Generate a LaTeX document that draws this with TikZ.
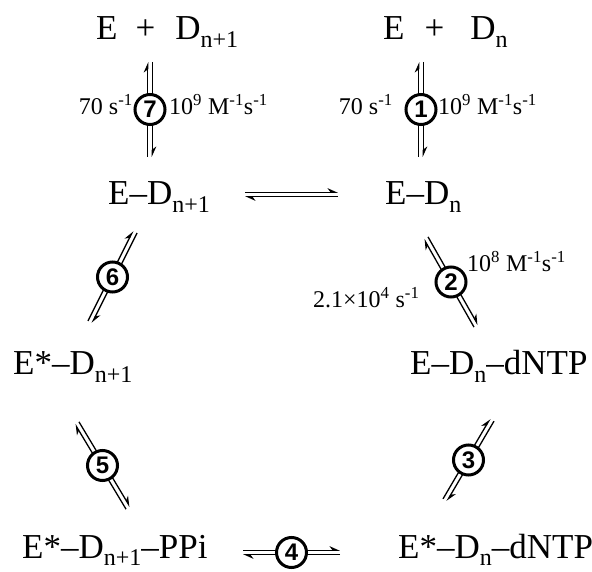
\documentclass[tikz,border=0pt]{standalone}
\usepackage{fontspec}
\setmainfont{Liberation Serif}
\newfontfamily\numfont{Liberation Sans}
\usepackage{tikz}
\usetikzlibrary{arrows.meta,calc}
\newcommand{\sub}[1]{\raisebox{-0.22em}{\fontsize{24}{24}\selectfont #1}}
\newcommand{\persec}{s\textsuperscript{-1}}
\newcommand{\equil}[2]{%
  \draw[eqline,-{Stealth[harpoon,length=9pt,width=8pt]}] ($(#1)!2.3pt!90:(#2)$) -- ($(#2)!2.3pt!-90:(#1)$);
  \draw[eqline,-{Stealth[harpoon,length=9pt,width=8pt]}] ($(#2)!2.3pt!90:(#1)$) -- ($(#1)!2.3pt!-90:(#2)$);
}
\tikzset{
  species/.style={anchor=base west,inner sep=0pt,font=\fontsize{35}{40}\selectfont},
  ratelbl/.style={inner sep=0pt,font=\fontsize{24}{28}\selectfont},
  stepno/.style={circle,draw,line width=3pt,fill=white,inner sep=0pt,minimum size=30pt,
    font=\numfont\bfseries\fontsize{24}{24}\selectfont},
  eqline/.style={line width=1.3pt},
}
\begin{document}
\begin{tikzpicture}[x=1pt,y=1pt]
  \useasboundingbox (0,0) rectangle (592,571);

  \node[species] (free1) at (96,531) {E\hspace{18pt}+\hspace{20pt}D\sub{n+1}};
  \node[species] (free0) at (383,531) {E\hspace{20pt}+\hspace{26pt}D\sub{n}};
  \node[species] (ed1) at (108,366) {E--D\sub{n+1}};
  \node[species] (ed0) at (385,366) {E--D\sub{n}};
  \node[species] (estar1) at (13,196) {E*--D\sub{n+1}};
  \node[species] (edntp) at (410,196) {E--D\sub{n}--dNTP};
  \node[species] (eppi) at (22,13) {E*--D\sub{n+1}--PPi};
  \node[species] (estardntp) at (398,13) {E*--D\sub{n}--dNTP};

  \coordinate (s7b) at (150,414); \coordinate (s7t) at (150,509);
  \coordinate (s1b) at (421,414); \coordinate (s1t) at (421,509);
  \coordinate (hl) at (245,376.5); \coordinate (hr) at (338,376.5);
  \coordinate (s6b) at (90,249);  \coordinate (s6t) at (135,339);
  \coordinate (s2t) at (426,333); \coordinate (s2b) at (476,245);
  \coordinate (s5t) at (77,148);  \coordinate (s5b) at (128,63);
  \coordinate (s3b) at (445,71);  \coordinate (s3t) at (492,151);
  \coordinate (s4l) at (243,18.5); \coordinate (s4r) at (340,18.5);

  \equil{s7b}{s7t}
  \equil{s1b}{s1t}
  \equil{hl}{hr}
  \equil{s6b}{s6t}
  \equil{s2t}{s2b}
  \equil{s5t}{s5b}
  \equil{s3b}{s3t}
  \equil{s4l}{s4r}

  \node[stepno] (n7) at ($(s7b)!0.5!(s7t)$) {7};
  \node[stepno] (n1) at ($(s1b)!0.5!(s1t)$) {1};
  \node[stepno] (n6) at ($(s6b)!0.5!(s6t)$) {6};
  \node[stepno] (n2) at ($(s2t)!0.5!(s2b)$) {2};
  \node[stepno] (n5) at ($(s5t)!0.5!(s5b)$) {5};
  \node[stepno] (n3) at ($(s3b)!0.5!(s3t)$) {3};
  \node[stepno] (n4) at ($(s4l)!0.5!(s4r)$) {4};

  \node[ratelbl,anchor=base east] (k7r) at (133,456) {70 \persec};
  \node[ratelbl,anchor=base west] (k7f) at (169,456) {10\textsuperscript{9} M\textsuperscript{-1}\persec};
  \node[ratelbl,anchor=base east] (k1r) at (393,456) {70 \persec};
  \node[ratelbl,anchor=base west] (k1f) at (438,456) {10\textsuperscript{9} M\textsuperscript{-1}\persec};
  \node[ratelbl,anchor=base west] (k2f) at (467,299) {10\textsuperscript{8} M\textsuperscript{-1}\persec};
  \node[ratelbl,anchor=base west] (k2r) at (313,263) {2.1×10\textsuperscript{4} \persec};
\end{tikzpicture}
\end{document}
